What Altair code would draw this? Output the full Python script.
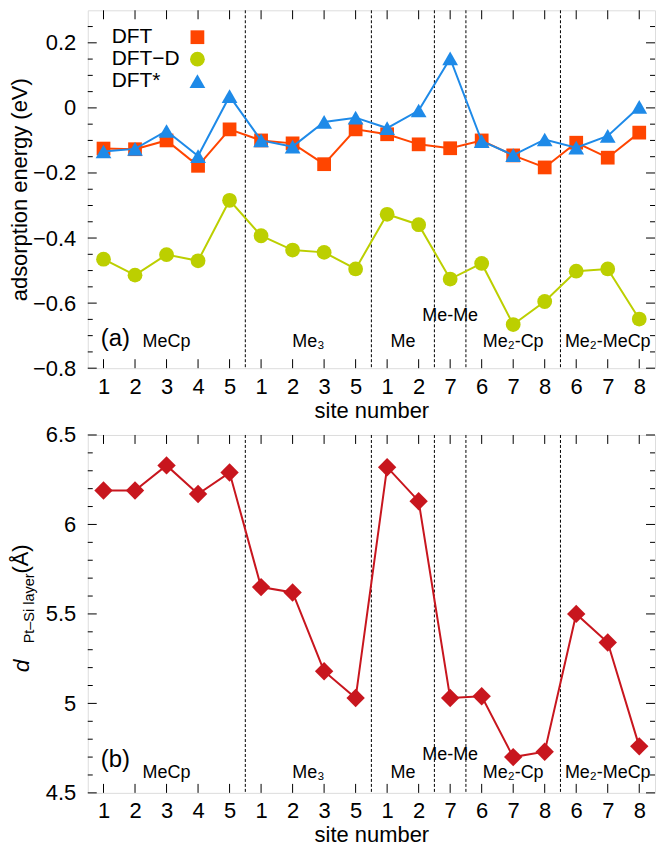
import json
import numpy as np
import pandas as pd
import altair as alt

# ---------------- data ----------------
groups = ["MeCp", "Me₃", "Me", "Me-Me", "Me₂-Cp", "Me₂-MeCp"]
group_sizes = [5, 4, 2, 1, 3, 3]
site_labels = ["1", "2", "3", "4", "5", "1", "2", "3", "5", "1", "2", "7",
               "6", "7", "8", "6", "7", "8"]

dft = [-0.125, -0.127, -0.100, -0.178, -0.066, -0.100, -0.109, -0.173, -0.066,
       -0.081, -0.112, -0.124, -0.100, -0.146, -0.183, -0.107, -0.153, -0.076]
dft_d = [-0.465, -0.514, -0.451, -0.470, -0.284, -0.393, -0.437, -0.444, -0.495,
         -0.327, -0.359, -0.526, -0.478, -0.666, -0.595, -0.502, -0.495, -0.649]
dft_star = [-0.134, -0.126, -0.071, -0.148, 0.036, -0.100, -0.119, -0.043, -0.030,
            -0.062, -0.008, 0.152, -0.102, -0.145, -0.097, -0.122, -0.086, 0.003]
d_layer = [6.19, 6.19, 6.33, 6.17, 6.29, 5.65, 5.62, 5.18, 5.03,
           6.32, 6.13, 5.03, 5.04, 4.70, 4.73, 5.50, 5.34, 4.76]

series_names = ["DFT", "DFT−D", "DFT*"]
series_colors = ["#ff4500", "#bccf00", "#1e8ae8"]
series_shapes = ["square", "circle", "triangle-up"]
series_sizes = [190, 220, 250]
dist_color = "#c8161e"

# ---------------- helpers ----------------
FONT = "Liberation Sans"
FS = 22
W, H = 569, 359
n = len(site_labels)
idx = list(range(1, n + 1))
XDOM = [0.5, n + 0.5]

ends = np.cumsum(group_sizes)
starts = ends - np.array(group_sizes) + 1
bounds_df = pd.DataFrame({"b": (ends[:-1] + 0.5).tolist()})
groups_df = pd.DataFrame({"g": groups, "c": ((starts + ends) / 2).tolist()})

xscale = alt.Scale(domain=XDOM, nice=False, zero=False)
label_expr = json.dumps(site_labels) + "[datum.value - 1]"

xaxis = alt.Axis(values=idx, labelExpr=label_expr, title="site number",
                 ticks=False, domain=False, grid=False, labelOverlap=False,
                 labelPadding=8, titlePadding=3,
                 labelFontSize=FS, titleFontSize=FS,
                 labelFont=FONT, titleFont=FONT,
                 labelColor="black", titleColor="black",
                 titleFontWeight="normal")


def frame_layers(ymaj, ymin, yscale, yaxis):
    yt = alt.Y("v:Q", scale=yscale, axis=yaxis)
    maj = pd.DataFrame({"v": ymaj})
    mnr = pd.DataFrame({"v": ymin})
    xt = pd.DataFrame({"v": idx})
    xs = alt.X("v:Q", scale=xscale, axis=xaxis)
    L = []
    L.append(alt.Chart(maj).mark_rule(color="black", strokeWidth=1).encode(
        y=yt, x=alt.value(0), x2=alt.value(9)))
    L.append(alt.Chart(maj).mark_rule(color="black", strokeWidth=1).encode(
        y=yt, x=alt.value(W), x2=alt.value(W - 9)))
    L.append(alt.Chart(mnr).mark_rule(color="black", strokeWidth=1).encode(
        y=yt, x=alt.value(0), x2=alt.value(5)))
    L.append(alt.Chart(mnr).mark_rule(color="black", strokeWidth=1).encode(
        y=yt, x=alt.value(W), x2=alt.value(W - 5)))
    L.append(alt.Chart(xt).mark_rule(color="black", strokeWidth=1).encode(
        x=xs, y=alt.value(H), y2=alt.value(H - 9)))
    L.append(alt.Chart(xt).mark_rule(color="black", strokeWidth=1).encode(
        x=xs, y=alt.value(0), y2=alt.value(9)))
    L.append(alt.Chart(bounds_df).mark_rule(color="black", strokeWidth=1,
                                            strokeDash=[3, 2]).encode(
        x=alt.X("b:Q", scale=xscale, axis=xaxis), y=alt.value(0), y2=alt.value(H)))
    return L


def group_labels(y_norm, y_mm):
    base = alt.Chart(groups_df).mark_text(fontSize=18, font=FONT, color="black",
                                          baseline="middle")
    a = base.transform_filter(alt.datum.g != "Me-Me").encode(
        x=alt.X("c:Q", scale=xscale, axis=xaxis), y=alt.value(y_norm), text="g:N")
    b = base.transform_filter(alt.datum.g == "Me-Me").encode(
        x=alt.X("c:Q", scale=xscale, axis=xaxis), y=alt.value(y_mm), text="g:N")
    return [a, b]


def free_text(t, x, y, size, **kw):
    return alt.Chart(pd.DataFrame({"t": [t]})).mark_text(
        fontSize=size, font=FONT, color="black", **kw).encode(
        text="t:N", x=alt.value(x), y=alt.value(y))


# ---------------- panel (a) ----------------
YA = [-0.8, 0.3]
ysa = alt.Scale(domain=YA, nice=False, zero=False)
ya_major = [-0.8, -0.6, -0.4, -0.2, 0.0, 0.2]
ya_minor = [round(v, 2) for v in np.arange(-0.75, 0.3, 0.05) if round(v * 100) % 20 != 0]

top_df = pd.DataFrame({"x": idx * 3,
                       "y": dft + dft_d + dft_star,
                       "s": sum([[s] * n for s in series_names], [])})

yaxis_a = alt.Axis(values=ya_major, format="~g", title="adsorption energy (eV)",
                   ticks=False, domain=False, grid=False, labelPadding=12,
                   titlePadding=1, labelFontSize=FS, titleFontSize=FS,
                   labelFont=FONT, titleFont=FONT, labelColor="black",
                   titleColor="black", titleFontWeight="normal")

layers_a = frame_layers(ya_major, ya_minor, ysa, yaxis_a)
for name, col, shp, sz in zip(series_names, series_colors, series_shapes, series_sizes):
    sub = alt.Chart(top_df).transform_filter(alt.datum.s == name)
    xe = alt.X("x:Q", scale=xscale, axis=xaxis)
    ye = alt.Y("y:Q", scale=ysa, axis=yaxis_a)
    layers_a.append(sub.mark_line(color=col, strokeWidth=2).encode(x=xe, y=ye))
    layers_a.append(sub.mark_point(shape=shp, filled=True, opacity=1, color=col,
                                   size=sz).encode(x=xe, y=ye))

# legend
leg_rows = [27, 49, 71]
for name, col, shp, sz, yy in zip(series_names, series_colors, series_shapes,
                                  series_sizes, leg_rows):
    layers_a.append(free_text(name, 24, yy, 21, align="left", baseline="middle"))
    layers_a.append(alt.Chart(pd.DataFrame({"t": [name]})).mark_point(
        shape=shp, filled=True, opacity=1, color=col, size=sz).encode(
        x=alt.value(110), y=alt.value(yy)))

layers_a.append(free_text("(a)", 13, H - 29, 24, align="left", baseline="middle"))
layers_a += group_labels(H - 26, H - 52)

panel_a = alt.layer(*layers_a).properties(width=W, height=H)

# ---------------- panel (b) ----------------
YB = [4.5, 6.5]
ysb = alt.Scale(domain=YB, nice=False, zero=False)
yb_major = [4.5, 5.0, 5.5, 6.0, 6.5]
yb_minor = [round(v, 1) for v in np.arange(4.6, 6.45, 0.1) if round(v * 10) % 5 != 0]

bot_df = pd.DataFrame({"x": idx, "y": d_layer})
yaxis_b = alt.Axis(values=yb_major, format="~g", title=None,
                   ticks=False, domain=False, grid=False, labelPadding=12,
                   labelFontSize=FS, labelFont=FONT, labelColor="black")

layers_b = frame_layers(yb_major, yb_minor, ysb, yaxis_b)
sub = alt.Chart(bot_df)
xe = alt.X("x:Q", scale=xscale, axis=xaxis)
ye = alt.Y("y:Q", scale=ysb, axis=yaxis_b)
layers_b.append(sub.mark_line(color=dist_color, strokeWidth=2).encode(x=xe, y=ye))
layers_b.append(sub.mark_point(shape="diamond", filled=True, opacity=1,
                               color=dist_color, size=340).encode(x=xe, y=ye))

# y title made of pieces: italic d, subscript, unit (rotated, reading upward)
layers_b.append(free_text("d", -66, 238, 23, align="left", baseline="middle",
                          angle=270, fontStyle="italic"))
layers_b.append(free_text("Pt–Si layer", -58, 209, 14.5, align="left",
                          baseline="middle", angle=270))
layers_b.append(free_text("(Å)", -67, 139, 22, align="left", baseline="middle",
                          angle=270))

layers_b.append(free_text("(b)", 13, H - 33, 24, align="left", baseline="middle"))
layers_b += group_labels(H - 20, H - 38)

panel_b = alt.layer(*layers_b).properties(width=W, height=H)

chart = alt.vconcat(panel_a, panel_b, spacing=67, bounds="flush").properties(
    padding={"left": 0, "top": 0, "right": 0, "bottom": 0}
).configure_view(stroke="black", strokeWidth=2).configure(background="white")

chart.save("out.html", embed_options={"renderer": "svg", "actions": False})
